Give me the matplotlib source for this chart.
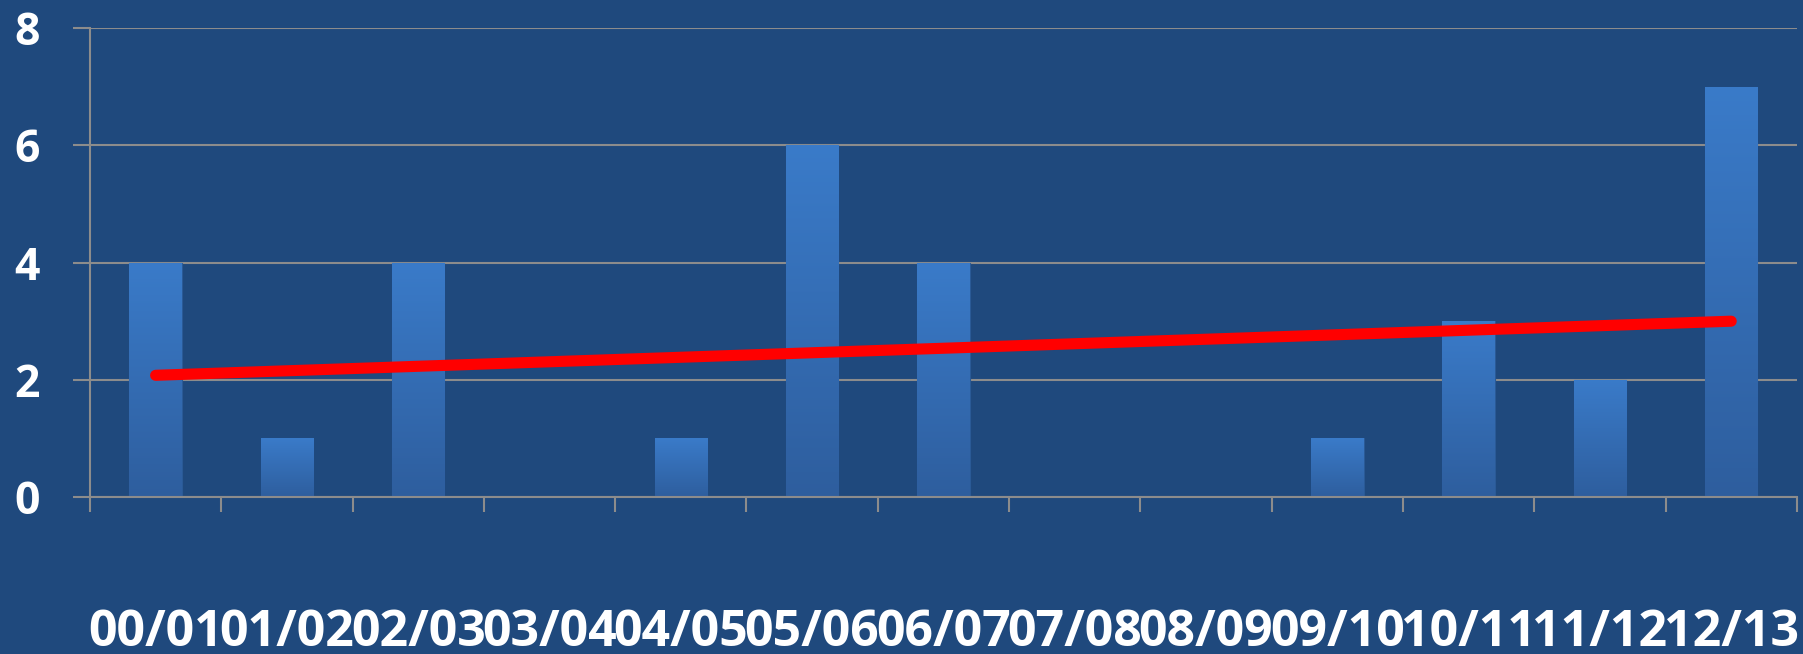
import numpy as np
import matplotlib
matplotlib.use("Agg")
import matplotlib.pyplot as plt
from matplotlib.colors import LinearSegmentedColormap

categories = ["00/01", "01/02", "02/03", "03/04", "04/05", "05/06", "06/07",
              "07/08", "08/09", "09/10", "10/11", "11/12", "12/13"]
values = [4, 1, 4, 0, 1, 6, 4, 0, 0, 1, 3, 2, 7]
yticks = [0, 2, 4, 6, 8]

BG = "#1F497D"
GRID = "#8C8C8C"

plt.rcParams['font.family'] = ['Open Sans', 'DejaVu Sans']

fig = plt.figure(figsize=(18.03, 6.54), dpi=100, facecolor=BG)
ax = fig.add_axes([0.0499, 0.240, 0.9467, 0.717], facecolor=BG)

x = np.arange(len(categories))
bars = ax.bar(x, values, width=0.40, color="#3672BA", edgecolor="#2A5A96",
              linewidth=0.8, zorder=2)

cmap = LinearSegmentedColormap.from_list("g", ["#2E5E9E", "#3A7BC9"])
grad = np.linspace(0, 1, 256).reshape(-1, 1)
for b in bars:
    h = b.get_height()
    if h <= 0:
        continue
    x0 = b.get_x()
    w = b.get_width()
    im = ax.imshow(grad, extent=(x0, x0 + w, 0, h), origin="lower",
                   cmap=cmap, aspect="auto", zorder=2.5)
    im.set_clip_path(b)

# linear trend line
coef = np.polyfit(x, values, 1)
trend = np.polyval(coef, x)
ax.plot([x[0], x[-1]], [trend[0], trend[-1]], color="#FF0000", lw=8,
        solid_capstyle="round", zorder=4)

ax.set_xlim(-0.5, len(categories) - 0.5)
ax.set_ylim(0, 8)
ax.set_yticks(yticks)
ax.set_yticklabels([str(v) for v in yticks], fontsize=32, fontweight="bold",
                   color="white")
ax.yaxis.grid(True, color=GRID, lw=1.5, zorder=1)
ax.set_axisbelow(True)

ax.set_xticks(np.arange(-0.5, len(categories), 1.0))
ax.set_xticklabels([])
ax.set_xticks(x, minor=True)
ax.set_xticklabels(categories, minor=True, fontsize=36, fontweight="bold",
                   color="white")
ax.tick_params(axis="x", which="major", direction="out", length=11,
               width=1.5, color=GRID)
ax.tick_params(axis="x", which="minor", length=0, pad=80)
ax.tick_params(axis="y", direction="out", length=12, width=1.5, color=GRID,
               pad=24)

for s in ["top", "right"]:
    ax.spines[s].set_visible(False)
for s in ["left", "bottom"]:
    ax.spines[s].set_color(GRID)
    ax.spines[s].set_linewidth(1.5)

fig.savefig("out.png", dpi=100, facecolor=BG)
